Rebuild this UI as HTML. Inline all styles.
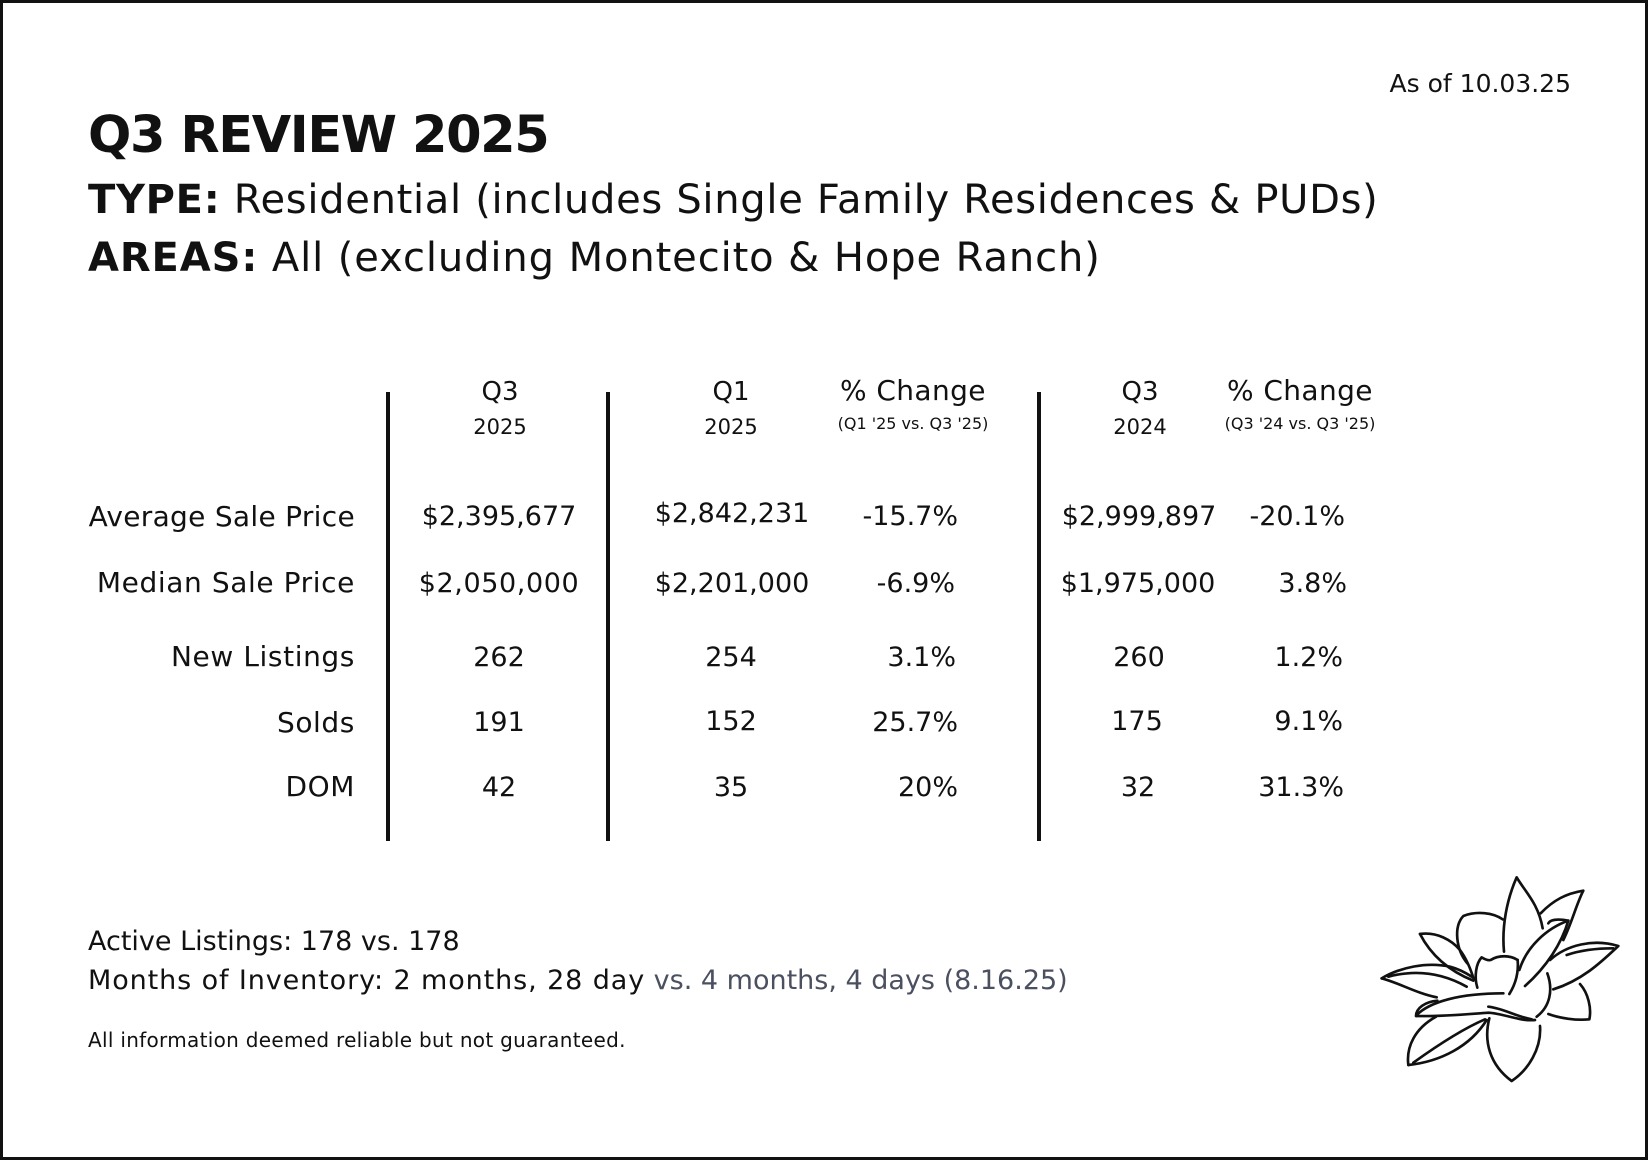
<!DOCTYPE html>
<html>
<head>
<meta charset="utf-8">
<style>
  html, body { margin:0; padding:0; background:#fff; }
  body { width:1650px; height:1161px; position:relative; overflow:hidden;
         font-family:"DejaVu Sans","Liberation Sans",sans-serif; color:#111; }
  .frame { position:absolute; left:0; top:0; width:1648px; height:1160px;
           border:3px solid #111; box-sizing:border-box; }
  .t { position:absolute; line-height:1; white-space:nowrap; }
  .c { width:400px; text-align:center; }
  .r { width:400px; text-align:right; }
  .vl { position:absolute; width:4px; background:#111; top:392px; height:449px; }
  .b { font-weight:bold; }
  .hd { font-size:26px; }
  .yr { font-size:21px; }
  .pc { font-size:28px; letter-spacing:0.4px; }
  .sm { font-size:16px; }
  .lab { font-size:28px; letter-spacing:0.6px; }
  .val { font-size:27px; }
</style>
</head>
<body>
<div class="frame"></div>

<div class="t r" style="left:1171px; top:71px; font-size:25px;">As of 10.03.25</div>

<div class="t b" style="left:88px; top:110px; font-size:51px; letter-spacing:-1.4px;">Q3 REVIEW 2025</div>
<div class="t" style="left:88px; top:180px; font-size:40px; letter-spacing:0.7px;"><span class="b">TYPE:</span> Residential (includes Single Family Residences &amp; PUDs)</div>
<div class="t" style="left:88px; top:238px; font-size:40px; letter-spacing:0.9px;"><span class="b">AREAS:</span> All (excluding Montecito &amp; Hope Ranch)</div>

<!-- vertical rules -->
<div class="vl" style="left:386px;"></div>
<div class="vl" style="left:606px;"></div>
<div class="vl" style="left:1037px;"></div>

<!-- headers -->
<div class="t c hd" style="left:300px; top:379px;">Q3</div>
<div class="t c yr" style="left:300px; top:417px;">2025</div>
<div class="t c hd" style="left:531px; top:379px;">Q1</div>
<div class="t c yr" style="left:531px; top:417px;">2025</div>
<div class="t c pc" style="left:713px; top:377px;">% Change</div>
<div class="t c sm" style="left:713px; top:416px;">(Q1 '25 vs. Q3 '25)</div>
<div class="t c hd" style="left:940px; top:379px;">Q3</div>
<div class="t c yr" style="left:940px; top:417px;">2024</div>
<div class="t c pc" style="left:1100px; top:377px;">% Change</div>
<div class="t c sm" style="left:1100px; top:416px;">(Q3 '24 vs. Q3 '25)</div>

<!-- row labels -->
<div class="t r lab" style="left:-45px; top:503px; letter-spacing:0.3px;">Average Sale Price</div>
<div class="t r lab" style="left:-45px; top:569px;">Median Sale Price</div>
<div class="t r lab" style="left:-45px; top:643px;">New Listings</div>
<div class="t r lab" style="left:-45px; top:709px;">Solds</div>
<div class="t r lab" style="left:-45px; top:773px;">DOM</div>

<!-- col 1: Q3 2025 -->
<div class="t c val" style="left:299px; top:503px;">$2,395,677</div>
<div class="t c val" style="left:299px; top:570px; letter-spacing:0.6px;">$2,050,000</div>
<div class="t c val" style="left:299px; top:644px;">262</div>
<div class="t c val" style="left:299px; top:709px;">191</div>
<div class="t c val" style="left:299px; top:774px;">42</div>

<!-- col 2: Q1 2025 -->
<div class="t c val" style="left:532px; top:500px;">$2,842,231</div>
<div class="t c val" style="left:532px; top:570px;">$2,201,000</div>
<div class="t c val" style="left:531px; top:644px;">254</div>
<div class="t c val" style="left:531px; top:708px;">152</div>
<div class="t c val" style="left:531px; top:774px;">35</div>

<!-- col 3: % change -->
<div class="t r val" style="left:558px; top:503px;">-15.7%</div>
<div class="t r val" style="left:555px; top:570px;">-6.9%</div>
<div class="t r val" style="left:556px; top:644px;">3.1%</div>
<div class="t r val" style="left:558px; top:709px;">25.7%</div>
<div class="t r val" style="left:558px; top:774px;">20%</div>

<!-- col 4: Q3 2024 -->
<div class="t c val" style="left:939px; top:503px;">$2,999,897</div>
<div class="t c val" style="left:938px; top:570px;">$1,975,000</div>
<div class="t c val" style="left:939px; top:644px;">260</div>
<div class="t c val" style="left:937px; top:708px;">175</div>
<div class="t c val" style="left:938px; top:774px;">32</div>

<!-- col 5: % change -->
<div class="t r val" style="left:945px; top:503px;">-20.1%</div>
<div class="t r val" style="left:947px; top:570px;">3.8%</div>
<div class="t r val" style="left:943px; top:644px;">1.2%</div>
<div class="t r val" style="left:943px; top:708px;">9.1%</div>
<div class="t r val" style="left:944px; top:774px;">31.3%</div>

<!-- bottom text -->
<div class="t" style="left:88px; top:928px; font-size:27px;">Active Listings: 178 vs. 178</div>
<div class="t" style="left:88px; top:967px; font-size:27px;"><span style="letter-spacing:0.9px;">Months of Inventory: 2 months, 28 day</span><span style="color:#4b5060;"> vs. 4 months, 4 days (8.16.25)</span></div>
<div class="t" style="left:88px; top:1030px; font-size:20px; letter-spacing:0.3px;">All information deemed reliable but not guaranteed.</div>

<!-- flower -->
<svg style="position:absolute; left:1350px; top:860px;" width="300" height="301" viewBox="0 0 900 903">
  <g fill="none" stroke="#111" stroke-width="8" stroke-linecap="round" stroke-linejoin="round">
    <path d="M462,275 C455,200 470,120 500,52 C525,95 565,130 578,205"/>
    <path d="M572,160 C610,120 650,100 700,92 C680,130 665,190 640,240"/>
    <path d="M595,190 C600,180 620,175 655,182"/>
    <path d="M508,330 C530,260 590,205 655,182 C635,250 590,320 525,378"/>
    <path d="M600,300 C650,255 730,235 805,258 C760,300 700,360 610,388"/>
    <path d="M650,285 C700,268 750,265 790,265"/>
    <path d="M690,372 C715,400 725,445 718,478 C680,482 630,475 595,462"/>
    <path d="M592,340 C610,390 600,440 560,470"/>
    <path d="M382,383 C372,350 378,310 395,292 C405,298 415,302 422,300 C445,285 480,285 503,300"/>
    <path d="M503,300 C506,335 498,370 478,402"/>
    <path d="M352,310 C318,270 310,200 340,168 C380,152 430,158 458,178"/>
    <path d="M210,222 C260,215 305,240 330,270 C345,290 360,320 372,360"/>
    <path d="M210,222 C240,280 290,330 370,362"/>
    <path d="M95,355 C150,322 230,305 300,320 C330,328 350,340 365,350"/>
    <path d="M95,355 C150,370 200,400 260,412"/>
    <path d="M115,350 C190,330 270,335 350,380"/>
    <path d="M200,465 C240,425 330,400 460,400"/>
    <path d="M200,468 C270,470 360,462 415,458 C460,460 510,485 555,480"/>
    <path d="M262,422 C225,425 198,445 198,468"/>
    <path d="M175,615 C168,560 195,505 258,470"/>
    <path d="M175,615 C270,605 360,560 410,480"/>
    <path d="M190,608 C250,565 330,510 405,478"/>
    <path d="M418,475 C400,545 420,615 485,663 C535,630 575,565 570,498"/>
    <path d="M415,440 C460,445 500,470 545,478"/>
  </g>
</svg>
</body>
</html>
